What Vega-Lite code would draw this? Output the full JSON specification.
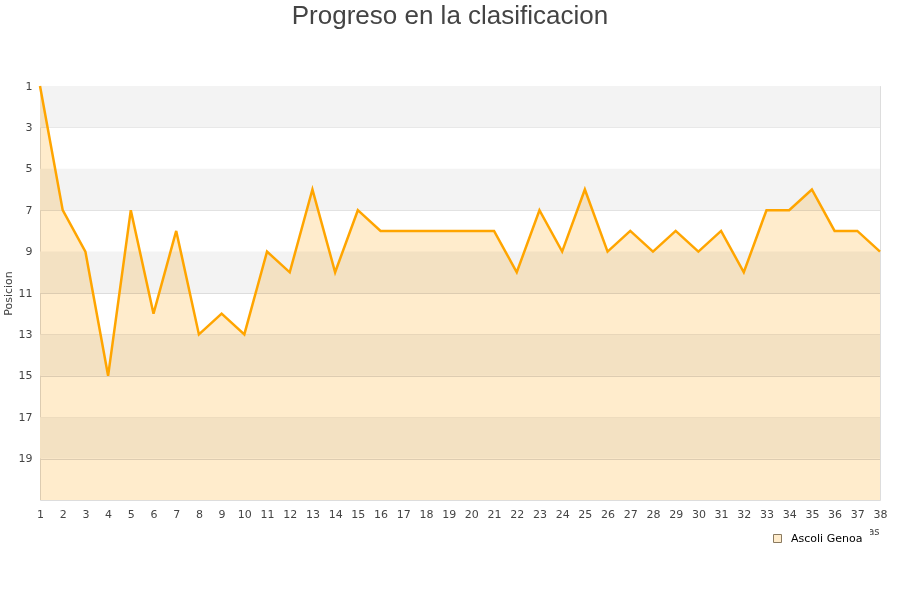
{
  "$schema": "https://vega.github.io/schema/vega-lite/v6.json",
  "autosize": {"type": "none"},
  "width": 840,
  "height": 414,
  "padding": {"left": 40, "top": 86, "right": 20, "bottom": 100},
  "background": "white",
  "title": {"text": "Progreso en la clasificacion", "fontSize": 26, "font": "Liberation Sans", "fontWeight": "normal", "color": "#444444", "dx": -10, "offset": 51},
  "datasets": {
    "pos": [
      {"jornada": 1, "posicion": 1, "equipo": "Ascoli Genoa"},
      {"jornada": 2, "posicion": 7, "equipo": "Ascoli Genoa"},
      {"jornada": 3, "posicion": 9, "equipo": "Ascoli Genoa"},
      {"jornada": 4, "posicion": 15, "equipo": "Ascoli Genoa"},
      {"jornada": 5, "posicion": 7, "equipo": "Ascoli Genoa"},
      {"jornada": 6, "posicion": 12, "equipo": "Ascoli Genoa"},
      {"jornada": 7, "posicion": 8, "equipo": "Ascoli Genoa"},
      {"jornada": 8, "posicion": 13, "equipo": "Ascoli Genoa"},
      {"jornada": 9, "posicion": 12, "equipo": "Ascoli Genoa"},
      {"jornada": 10, "posicion": 13, "equipo": "Ascoli Genoa"},
      {"jornada": 11, "posicion": 9, "equipo": "Ascoli Genoa"},
      {"jornada": 12, "posicion": 10, "equipo": "Ascoli Genoa"},
      {"jornada": 13, "posicion": 6, "equipo": "Ascoli Genoa"},
      {"jornada": 14, "posicion": 10, "equipo": "Ascoli Genoa"},
      {"jornada": 15, "posicion": 7, "equipo": "Ascoli Genoa"},
      {"jornada": 16, "posicion": 8, "equipo": "Ascoli Genoa"},
      {"jornada": 17, "posicion": 8, "equipo": "Ascoli Genoa"},
      {"jornada": 18, "posicion": 8, "equipo": "Ascoli Genoa"},
      {"jornada": 19, "posicion": 8, "equipo": "Ascoli Genoa"},
      {"jornada": 20, "posicion": 8, "equipo": "Ascoli Genoa"},
      {"jornada": 21, "posicion": 8, "equipo": "Ascoli Genoa"},
      {"jornada": 22, "posicion": 10, "equipo": "Ascoli Genoa"},
      {"jornada": 23, "posicion": 7, "equipo": "Ascoli Genoa"},
      {"jornada": 24, "posicion": 9, "equipo": "Ascoli Genoa"},
      {"jornada": 25, "posicion": 6, "equipo": "Ascoli Genoa"},
      {"jornada": 26, "posicion": 9, "equipo": "Ascoli Genoa"},
      {"jornada": 27, "posicion": 8, "equipo": "Ascoli Genoa"},
      {"jornada": 28, "posicion": 9, "equipo": "Ascoli Genoa"},
      {"jornada": 29, "posicion": 8, "equipo": "Ascoli Genoa"},
      {"jornada": 30, "posicion": 9, "equipo": "Ascoli Genoa"},
      {"jornada": 31, "posicion": 8, "equipo": "Ascoli Genoa"},
      {"jornada": 32, "posicion": 10, "equipo": "Ascoli Genoa"},
      {"jornada": 33, "posicion": 7, "equipo": "Ascoli Genoa"},
      {"jornada": 34, "posicion": 7, "equipo": "Ascoli Genoa"},
      {"jornada": 35, "posicion": 6, "equipo": "Ascoli Genoa"},
      {"jornada": 36, "posicion": 8, "equipo": "Ascoli Genoa"},
      {"jornada": 37, "posicion": 8, "equipo": "Ascoli Genoa"},
      {"jornada": 38, "posicion": 9, "equipo": "Ascoli Genoa"}
    ],
    "bands": [
      {"desde": 1, "hasta": 3},
      {"desde": 5, "hasta": 7},
      {"desde": 9, "hasta": 11},
      {"desde": 13, "hasta": 15},
      {"desde": 17, "hasta": 19}
    ]
  },
  "config": {
    "view": {"stroke": "#dddddd", "strokeWidth": 1},
    "axis": {"labelFont": "DejaVu Sans", "labelFontSize": 11, "labelColor": "#444444", "titleFont": "DejaVu Sans", "titleFontSize": 11, "titleFontWeight": "normal", "titleColor": "#444444", "domain": false, "ticks": false, "gridColor": "#dddddd", "gridWidth": 1}
  },
  "layer": [
    {
      "data": {"name": "bands"},
      "mark": {"type": "rect", "color": "#f3f3f3"},
      "encoding": {
        "y": {"field": "desde", "type": "quantitative", "scale": {"domain": [1, 21], "reverse": true, "nice": false, "zero": false},
              "axis": {"values": [1, 3, 5, 7, 9, 11, 13, 15, 17, 19], "title": "Posicion", "labelPadding": 8, "titlePadding": 5, "labelOverlap": false}},
        "y2": {"field": "hasta"}
      }
    },
    {
      "data": {"name": "pos"},
      "encoding": {
        "x": {"field": "jornada", "type": "quantitative", "scale": {"domain": [1, 38], "nice": false, "zero": false},
              "axis": {"values": [1,2,3,4,5,6,7,8,9,10,11,12,13,14,15,16,17,18,19,20,21,22,23,24,25,26,27,28,29,30,31,32,33,34,35,36,37,38], "labelOverlap": false, "title": "Jornadas", "titleAnchor": "end", "titleX": 839, "titleAlign": "right", "titlePadding": 7, "titleFontSize": 10, "grid": false, "labelPadding": 8, "labelFlush": false}},
        "y": {"field": "posicion", "type": "quantitative"}
      },
      "layer": [
        {
          "mark": {"type": "area", "blend": "multiply"},
          "encoding": {
            "y2": {"datum": 21},
            "color": {"field": "equipo", "type": "nominal", "scale": {"range": ["#ffeccc"]},
                      "legend": {"orient": "none", "legendX": 725, "legendY": 440, "title": null, "padding": 7, "fillColor": "white", "symbolType": "square", "symbolSize": 64, "symbolOpacity": 1, "symbolStrokeColor": "#8a7a60", "symbolStrokeWidth": 1, "labelOffset": 8, "labelFont": "DejaVu Sans", "labelFontSize": 11, "labelColor": "#000000",
                                 "encode": {"symbols": {"update": {"stroke": {"value": "#8a7a60"}, "strokeWidth": {"value": 1}}}}}}
          }
        },
        {
          "mark": {"type": "line", "color": "#ffa500", "strokeWidth": 2.5}
        }
      ]
    }
  ]
}
